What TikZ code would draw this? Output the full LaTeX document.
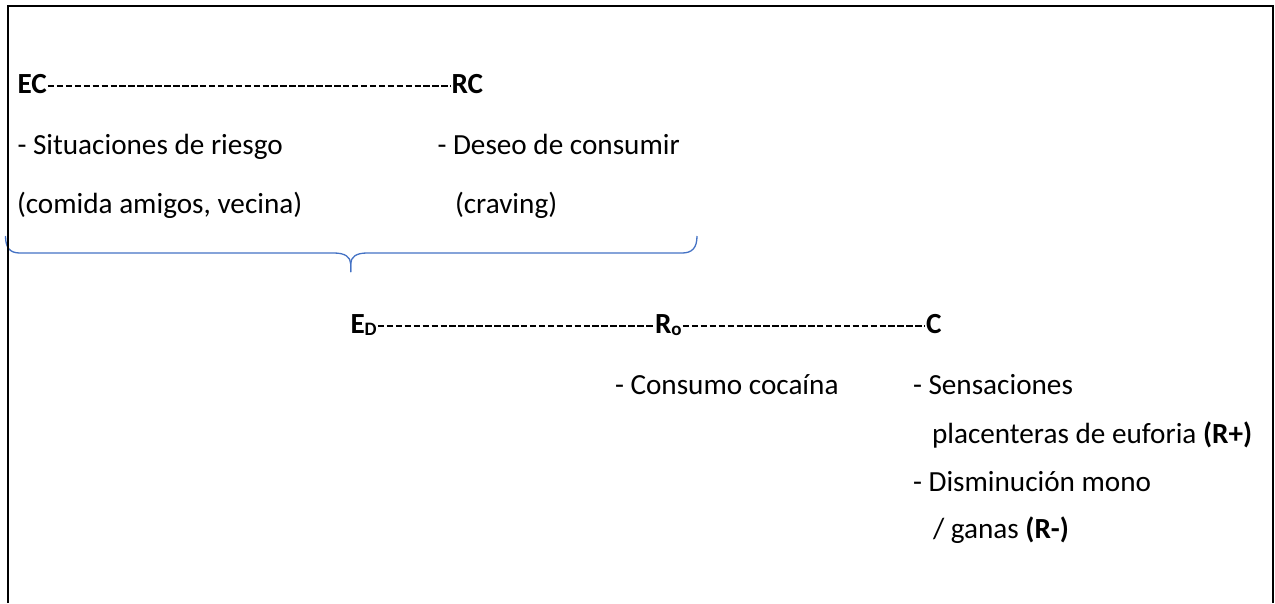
\documentclass[tikz,border=0pt]{standalone}
\usepackage{fontspec}
\setmainfont{Carlito}
\usetikzlibrary{calc}
\definecolor{bracecol}{HTML}{4472C4}
\newcommand\sbx[1]{\raisebox{-1.5pt}{\fontsize{19}{19}\selectfont\bfseries #1}}
\begin{document}
\begin{tikzpicture}[x=1pt,y=-1pt,
  every node/.style={inner sep=0pt,outer sep=0pt,anchor=base west,font=\fontsize{29.2}{35}\selectfont},
  key/.style={font=\fontsize{29.2}{35}\selectfont\bfseries},
  hyph/.style={line width=1.9pt,dash pattern=on 6.5pt off 2.44pt,shorten <=1.2pt,shorten >=1.2pt},
  frame/.style={line width=2pt},
  bracestyle/.style={draw=bracecol,line width=1.3pt}]
\useasboundingbox (0,0) rectangle (1275,603);
% brace
\coordinate (btip) at (350.7,272);
\draw[bracestyle] (5.5,236) .. controls (5.5,248) and (10,253) .. (20,253) -- (334,253) .. controls (345,253) and (350.7,257) .. (350.7,264) -- (btip);
\draw[bracestyle] (btip) -- (350.7,264) .. controls (350.7,257) and (356,253) .. (367,253) -- (682,253) .. controls (692,253) and (697,248) .. (697,236);
% frame
\draw[frame] (8,603) -- (8,6) -- (1273,6) -- (1273,603);
% nodes
\node[key] (EC) at (17.5,93.5) {EC};
\node[key] (RC) at (451.5,93.5) {RC};
\node (sit) at (17.5,154) {- Situaciones de riesgo};
\node (des) at (437.5,154) {- Deseo de consumir};
\node (com) at (17,213) {(comida amigos, vecina)};
\node (cra) at (455,213) {(craving)};
\node[key] (ED) at (350.5,333.5) {E\sbx{D}};
\node[key] (RO) at (655,333.5) {R\sbx{o}};
\node[key] (C) at (926,333.5) {C};
\node (con) at (615,394) {- Consumo cocaína};
\node (sen) at (913,394) {- Sensaciones};
\node (pla) at (932,443) {placenteras de euforia \textbf{(R+)}};
\node (dis) at (913,491) {- Disminución mono};
\node (gan) at (933,538) {/ ganas \textbf{(R-)}};
% connectors
\draw[hyph] ([yshift=7.9pt]EC.base east) -- ([yshift=7.9pt]RC.base west);
\draw[hyph] ([yshift=7.9pt]ED.base east) -- ([yshift=7.9pt]RO.base west);
\draw[hyph] ([yshift=7.9pt]RO.base east) -- ([yshift=7.9pt]C.base west);
\end{tikzpicture}
\end{document}
